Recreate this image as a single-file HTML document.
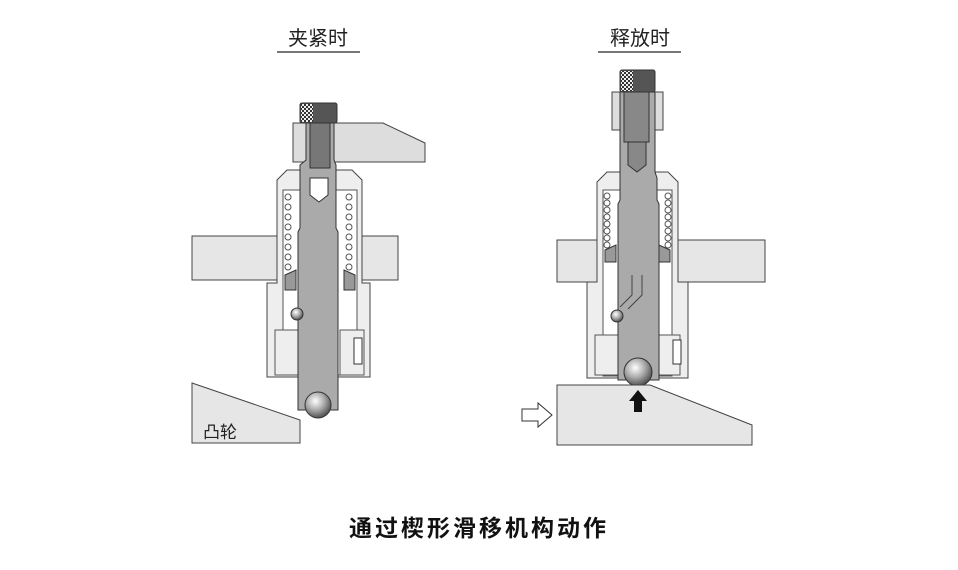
<!DOCTYPE html>
<html><head><meta charset="utf-8"><style>
body{margin:0;background:#fff}
svg{display:block}
text{font-family:"Liberation Sans","Noto Sans CJK SC",sans-serif}
</style></head><body>
<svg width="958" height="570" viewBox="0 0 958 570" xmlns="http://www.w3.org/2000/svg">
<defs>
<pattern id="chk" width="4" height="4" patternUnits="userSpaceOnUse"><rect width="4" height="4" fill="#eee"/><rect width="2" height="2" fill="#333"/><rect x="2" y="2" width="2" height="2" fill="#333"/></pattern>
<radialGradient id="ball" cx="0.4" cy="0.35" r="0.7"><stop offset="0" stop-color="#fff"/><stop offset="0.5" stop-color="#aaa"/><stop offset="1" stop-color="#444"/></radialGradient>
</defs>
<g stroke="#333" stroke-width="1">
<text x="318" y="45" font-size="20" text-anchor="middle" stroke="none" fill="#222">夹紧时</text>
<line x1="277" y1="52" x2="360" y2="52" stroke="#777" stroke-width="2"/>
<text x="640" y="45" font-size="20" text-anchor="middle" stroke="none" fill="#222">释放时</text>
<line x1="598" y1="52" x2="681" y2="52" stroke="#777" stroke-width="2"/>

<!-- LEFT -->
<rect x="192" y="236" width="85" height="44" fill="#e6e6e6" stroke="#444"/>
<rect x="362" y="236" width="36" height="44" fill="#e6e6e6" stroke="#444"/>
<polygon points="277,180 287,170 352,170 362,180 362,283 370,283 370,377 267,377 267,283 277,283" fill="#eee" stroke="#444"/>
<rect x="283" y="190" width="74" height="185" fill="#fff" stroke="#555"/>
<rect x="275" y="330" width="24" height="45" fill="#eee" stroke="#555"/>
<rect x="340" y="330" width="24" height="45" fill="#eee" stroke="#555"/>
<rect x="354" y="338" width="8" height="26" fill="#fff"/>
<g fill="#fff" stroke="#555">
<circle cx="288" cy="197" r="3"/><circle cx="288" cy="207" r="3"/><circle cx="288" cy="217" r="3"/><circle cx="288" cy="227" r="3"/><circle cx="288" cy="237" r="3"/><circle cx="288" cy="247" r="3"/><circle cx="288" cy="257" r="3"/><circle cx="288" cy="267" r="3"/>
<circle cx="349" cy="197" r="3"/><circle cx="349" cy="207" r="3"/><circle cx="349" cy="217" r="3"/><circle cx="349" cy="227" r="3"/><circle cx="349" cy="237" r="3"/><circle cx="349" cy="247" r="3"/><circle cx="349" cy="257" r="3"/><circle cx="349" cy="267" r="3"/>
</g>
<polygon points="285,275 296,270 296,290 285,290" fill="#999"/>
<polygon points="355,275 344,270 344,290 355,290" fill="#999"/>
<polygon points="293,123 383,123 425,143 425,162 293,162" fill="#ddd" stroke="#444"/>
<polygon points="306,123 334,123 334,160 336,165 336,228 338,232 338,410 298,410 298,232 300,228 300,165 306,160" fill="#aaa" stroke="#333"/>
<rect x="310" y="123" width="20" height="45" fill="#777"/>
<polygon points="310,178 328,178 328,195 319,202 310,195" fill="#fff"/>
<circle cx="297" cy="314" r="6" fill="url(#ball)"/>
<rect x="300" y="103" width="37" height="20" rx="2" fill="#555"/>
<rect x="301" y="104" width="12" height="18" fill="url(#chk)" stroke="none"/>
<circle cx="318" cy="405" r="13" fill="url(#ball)"/>
<polygon points="192,383 300,420 300,443 192,443" fill="#e6e6e6" stroke="#444"/>
<text x="203" y="438" font-size="17" stroke="none" fill="#222">凸轮</text>

<!-- RIGHT -->
<rect x="557" y="240" width="40" height="42" fill="#e6e6e6" stroke="#444"/>
<rect x="678" y="240" width="87" height="42" fill="#e6e6e6" stroke="#444"/>
<polygon points="597,182 607,172 668,172 678,182 678,282 688,282 688,378 587,378 587,282 597,282" fill="#eee" stroke="#444"/>
<rect x="603" y="190" width="69" height="186" fill="#fff" stroke="#555"/>
<rect x="595" y="335" width="24" height="40" fill="#eee" stroke="#555"/>
<rect x="656" y="335" width="24" height="40" fill="#eee" stroke="#555"/>
<rect x="673" y="340" width="8" height="24" fill="#fff"/>
<g fill="#fff" stroke="#555">
<circle cx="607" cy="196" r="3"/><circle cx="607" cy="203" r="3"/><circle cx="607" cy="210" r="3"/><circle cx="607" cy="217" r="3"/><circle cx="607" cy="224" r="3"/><circle cx="607" cy="231" r="3"/><circle cx="607" cy="238" r="3"/><circle cx="607" cy="245" r="3"/>
<circle cx="668" cy="196" r="3"/><circle cx="668" cy="203" r="3"/><circle cx="668" cy="210" r="3"/><circle cx="668" cy="217" r="3"/><circle cx="668" cy="224" r="3"/><circle cx="668" cy="231" r="3"/><circle cx="668" cy="238" r="3"/><circle cx="668" cy="245" r="3"/>
</g>
<polygon points="605,250 616,245 616,262 605,262" fill="#999"/>
<polygon points="670,250 659,245 659,262 670,262" fill="#999"/>
<rect x="612" y="92" width="51" height="38" fill="#ddd" stroke="#444"/>
<polygon points="620,92 655,92 655,172 657,178 657,200 659,204 659,380 618,380 618,204 620,200 620,178" fill="#aaa" stroke="#333"/>
<rect x="624" y="92" width="25" height="50" fill="#888"/>
<polygon points="628,142 646,142 646,165 637,172 628,165" fill="#888"/>
<path d="M632,275 v20 l-12,12 M642,275 v20 l-14,14" fill="none" stroke="#444"/>
<circle cx="617" cy="316" r="6" fill="url(#ball)"/>
<rect x="620" y="70" width="35" height="22" rx="2" fill="#555"/>
<rect x="621" y="71" width="12" height="20" fill="url(#chk)" stroke="none"/>
<circle cx="638" cy="372" r="14" fill="url(#ball)"/>
<polygon points="557,385 650,385 752,425 752,445 557,445" fill="#e6e6e6" stroke="#444"/>
<polygon points="638,390 647,401 642,401 642,412 634,412 634,401 629,401" fill="#111" stroke="none"/>
<polygon points="522,409 538,409 538,403 552,415 538,427 538,421 522,421" fill="#fff" stroke="#333"/>
</g>
<text x="479" y="536" font-size="23" font-weight="bold" letter-spacing="3" text-anchor="middle" fill="#111">通过楔形滑移机构动作</text>
</svg>
</body></html>
